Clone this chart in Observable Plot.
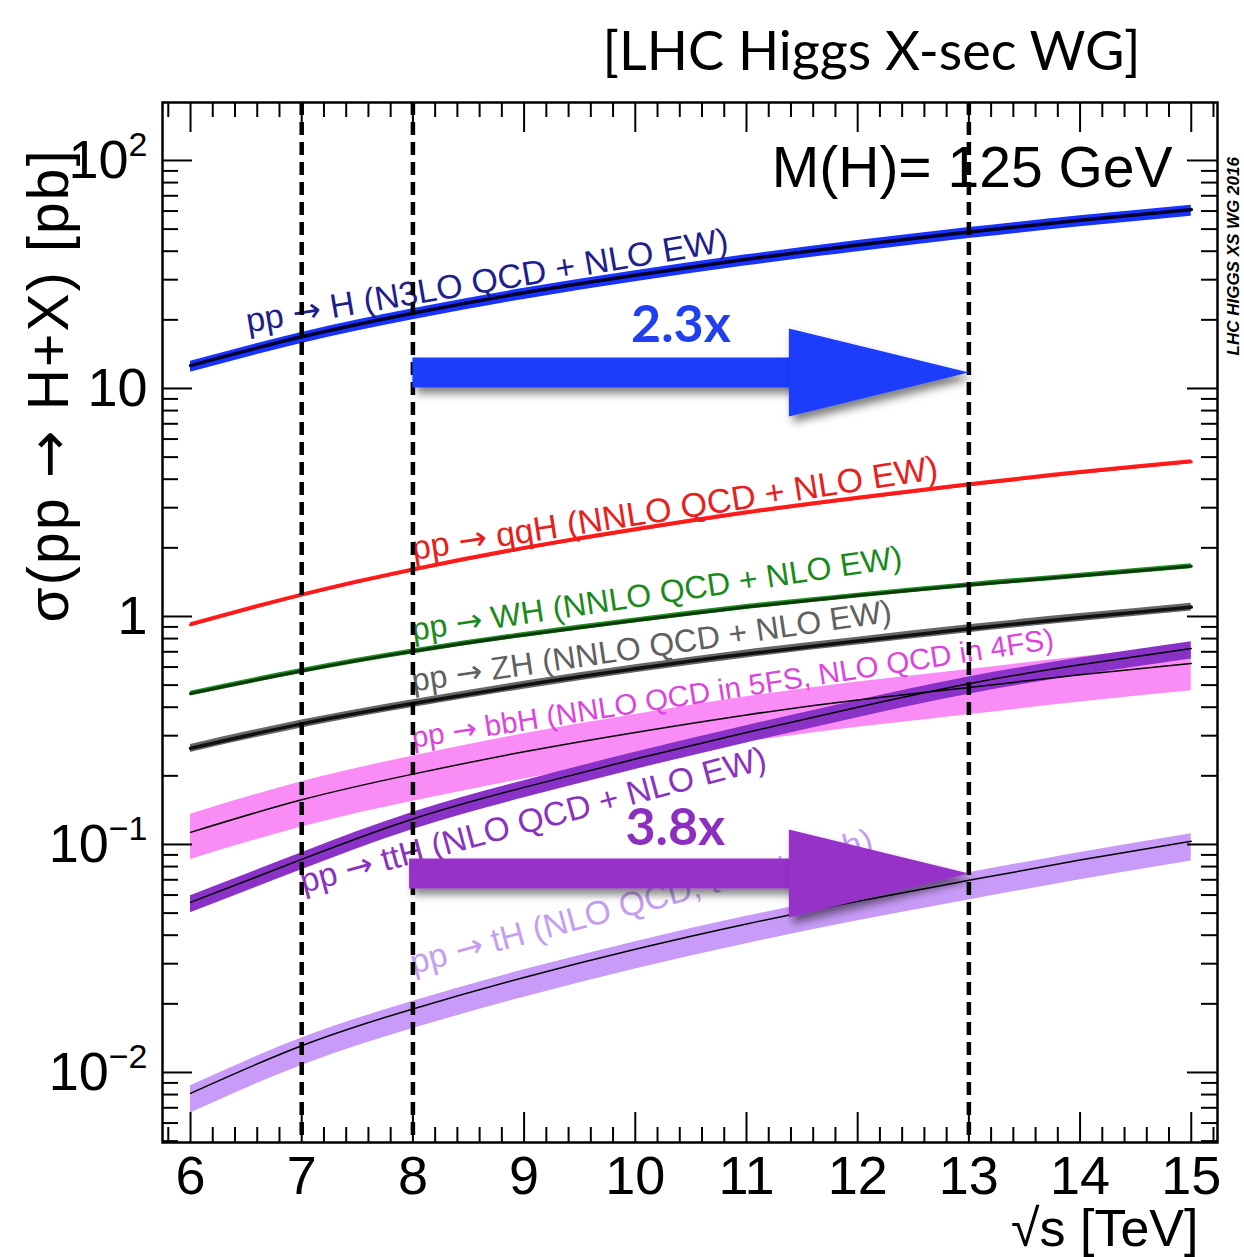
<!DOCTYPE html>
<html><head><meta charset="utf-8">
<script src="https://cdn.jsdelivr.net/npm/d3@7"></script>
<script src="https://cdn.jsdelivr.net/npm/@observablehq/plot@0.6"></script>
<style>
body{margin:0;background:#fff;}
svg{font-family:"Liberation Sans",Arial,Helvetica,sans-serif;}
</style>
</head><body><div id="chart"></div>
<script>
// ---- data (sqrt(s) in TeV, cross sections in pb) ----
const energies = [6, 7, 8, 9, 10, 11, 12, 13, 14, 15];
const ggH = [12.6, 16.85, 21.39, 26.3, 31.4, 36.9, 42.6, 48.6, 54.7, 60.9];
const qqH = [0.92, 1.241, 1.601, 1.99, 2.40, 2.85, 3.30, 3.78, 4.28, 4.77];
const WH  = [0.459, 0.577, 0.703, 0.83, 0.96, 1.10, 1.235, 1.373, 1.51, 1.66];
const ZH  = [0.264, 0.338, 0.415, 0.50, 0.59, 0.685, 0.78, 0.884, 0.99, 1.10];
const bbH = [0.113, 0.157, 0.2035, 0.255, 0.31, 0.37, 0.43, 0.488, 0.555, 0.622];
const ttH = [0.0557, 0.086, 0.1293, 0.178, 0.237, 0.31, 0.40, 0.507, 0.614, 0.724];
const tH  = [0.0081, 0.0131, 0.0190, 0.0261, 0.0347, 0.0448, 0.0564, 0.0696, 0.0854, 0.1033];
// relative uncertainties [up, down]
const ggHUnc = [0.045, 0.065];
const qqHUnc = [0.02, 0.02];
const WHUnc  = [0.025, 0.025];
const ZHUnc  = [0.04, 0.04];
const bbHUnc = [0.20, 0.24];
const ttHUnc = [0.07, 0.10];
const tHUnc  = [0.08, 0.18];

// curve labels
const labelTexts = ["pp → H (N3LO QCD + NLO EW)", "pp → qqH (NNLO QCD + NLO EW)", "pp → WH (NNLO QCD + NLO EW)",
  "pp → ZH (NNLO QCD + NLO EW)", "pp → bbH (NNLO QCD in 5FS, NLO QCD in 4FS)", "pp → ttH (NLO QCD + NLO EW)",
  "pp → tH (NLO QCD, t-ch + s-ch)"];
const labelX = [6.50, 7.99, 7.99, 7.99, 7.99, 6.99, 7.98];
const labelY = [19.6, 1.97, 0.868, 0.519, 0.292, 0.068, 0.030];

// vertical reference energies and ratio arrows
const refEnergies = [7, 8, 13];
const arrowFrom = 8, arrowTo = 13;
const ratioLabels = ["2.3x", "3.8x"];
const arrowLevels = [11.75, 0.0746];
const ratioLabelX = [10.41, 10.36];
const ratioLabelY = [18.9, 0.1175];

// axis ticks
const xTicks = [6, 7, 8, 9, 10, 11, 12, 13, 14, 15];
const yTicks = [0.01, 0.1, 1, 10, 100];
const yTickBase = ["10", "10", "1", "10", "10"];
const yTickExp = ["−2", "−1", "", "", "2"];

// ---- build tables ----
const procs = [
  {v: ggH, u: ggHUnc, band: "#1833ff", line: "#00002a", lw: 3.5},
  {v: qqH, u: qqHUnc, band: "#ff2020", line: "#ff1a1a", lw: 3},
  {v: WH,  u: WHUnc,  band: "#1f8f1f", line: "#0b3a0b", lw: 3},
  {v: ZH,  u: ZHUnc,  band: "#666666", line: "#111111", lw: 3.5},
  {v: bbH, u: bbHUnc, band: "#fa8cf5", line: "#000000", lw: 1.5},
  {v: ttH, u: ttHUnc, band: "#8a32c8", line: "#000000", lw: 1.5},
  {v: tH,  u: tHUnc,  band: "#c79bf7", line: "#000000", lw: 1.5}
];
const rows = p => energies.map((x, i) => ({x, y: p.v[i], y1: p.v[i] * (1 - p.u[1]), y2: p.v[i] * (1 + p.u[0])}));
const labelStyle = [
  {c: "#1e1e8c", s: 34, a: -9.6}, {c: "#e8201c", s: 34, a: -8.8}, {c: "#1a8a1a", s: 32, a: -8.5},
  {c: "#606060", s: 32, a: -8.3}, {c: "#dd44dd", s: 29.5, a: -8.8}, {c: "#8a33c0", s: 33.5, a: -15},
  {c: "#c49ef0", s: 33.5, a: -15}
];

const W = 1244, H = 1257, mL = 162, mR = 27, mT = 102, mB = 115;
const fw = W - mL - mR, fh = H - mT - mB;
const xMinor = d3.range(58, 153, 2).map(d => d / 10).filter(d => d % 1 !== 0);
const yMinor = [];
for (let e = -3; e <= 2; e++) for (let k = 2; k <= 9; k++) { const v = k * 10 ** e; if (v > 0.00494 && v < 179) yMinor.push(v); }

const headSymbol = {draw(ctx) { ctx.moveTo(0, 0); ctx.lineTo(-180, -44); ctx.lineTo(-180, 44); ctx.closePath(); }};

const marks = [];
procs.forEach(p => marks.push(Plot.areaY(rows(p), {x: "x", y1: "y1", y2: "y2", fill: p.band, curve: "natural"})));
procs.forEach(p => marks.push(Plot.line(rows(p), {x: "x", y: "y", stroke: p.line, strokeWidth: p.lw, curve: "natural"})));
labelTexts.forEach((t, i) => marks.push(Plot.text([t], {
  x: () => labelX[i], y: () => labelY[i], text: d => d, fill: labelStyle[i].c, fontSize: labelStyle[i].s,
  rotate: labelStyle[i].a, textAnchor: "start", lineAnchor: "middle"
})));
marks.push(Plot.ruleX(refEnergies, {x: d => d, stroke: "black", strokeWidth: 4.5, strokeDasharray: "13,7"}));
marks.push(
  Plot.tickX(xTicks, {x: d => d, insetTop: fh - 30, stroke: "black", strokeWidth: 2}),
  Plot.tickX(xTicks, {x: d => d, insetBottom: fh - 30, stroke: "black", strokeWidth: 2}),
  Plot.tickX(xMinor, {x: d => d, insetTop: fh - 15, stroke: "black", strokeWidth: 2}),
  Plot.tickX(xMinor, {x: d => d, insetBottom: fh - 15, stroke: "black", strokeWidth: 2}),
  Plot.tickY(yTicks, {y: d => d, insetRight: fw - 30, stroke: "black", strokeWidth: 2}),
  Plot.tickY(yTicks, {y: d => d, insetLeft: fw - 30, stroke: "black", strokeWidth: 2}),
  Plot.tickY(yMinor, {y: d => d, insetRight: fw - 16, stroke: "black", strokeWidth: 2}),
  Plot.tickY(yMinor, {y: d => d, insetLeft: fw - 16, stroke: "black", strokeWidth: 2})
);
marks.push(
  Plot.axisX({ticks: xTicks, tickSize: 0, tickPadding: 13, fontSize: 54, label: null, tickFormat: d => String(d)}),
  Plot.axisY({ticks: yTicks, tickSize: 0, tickPadding: 15, fontSize: 54, label: null,
    tickFormat: d => { const i = yTicks.indexOf(d); return yTickBase[i] + "|" + yTickExp[i]; }})
);
const arrowColors = ["#1c3dfc", "#9630c8"];
const ratioColors = ["#2040f0", "#8c2fc0"];
arrowLevels.forEach((lev, i) => {
  marks.push(Plot.ruleY([lev], {y: d => d, x1: arrowFrom - (i ? 0.03 : 0), x2: 12, stroke: arrowColors[i], strokeWidth: 30}));
  marks.push(Plot.dot([{x: arrowTo, y: lev}], {x: "x", y: "y", symbol: headSymbol, fill: arrowColors[i], stroke: "none"}));
  marks.push(Plot.text([ratioLabels[i]], {x: () => ratioLabelX[i], y: () => ratioLabelY[i], text: d => d, fill: ratioColors[i],
    fontSize: 52, fontWeight: "bold", fontFamily: "Lato, 'Open Sans', sans-serif", textAnchor: "middle", lineAnchor: "middle"}));
});
marks.push(
  Plot.text(["[LHC Higgs X-sec WG]"], {frameAnchor: "top-right", dx: -77, dy: -50, text: d => d, textAnchor: "end", lineAnchor: "middle", fontSize: 54, fontFamily: "Lato, 'Open Sans', sans-serif", fill: "black"}),
  Plot.text(["M(H)= 125 GeV"], {frameAnchor: "top-right", dx: -45, dy: 66, text: d => d, textAnchor: "end", lineAnchor: "middle", fontSize: 57, fill: "black"}),
  Plot.text(["σ(pp → H+X) [pb]"], {frameAnchor: "top-left", dx: -113, dy: 48, text: d => d, rotate: -90, textAnchor: "end", lineAnchor: "middle", fontSize: 57, fill: "black"}),
  Plot.text(["√s [TeV]"], {frameAnchor: "bottom-right", dx: -19, dy: 87, text: d => d, textAnchor: "end", lineAnchor: "middle", fontSize: 52, fill: "black"}),
  Plot.text(["LHC HIGGS XS WG 2016"], {frameAnchor: "top-right", dx: 16, dy: 253, text: d => d, rotate: -90, textAnchor: "start", lineAnchor: "middle", fontSize: 17, fontWeight: "bold", fontStyle: "italic", fill: "black"}),
  Plot.frame({stroke: "black", strokeWidth: 2.5})
);

const chart = Plot.plot({
  width: W, height: H, marginLeft: mL, marginRight: mR, marginTop: mT, marginBottom: mB,
  x: {domain: [5.748, 15.236]},
  y: {type: "log", domain: [0.00493, 179.6]},
  style: {background: "white", color: "black"},
  marks
});
document.getElementById("chart").appendChild(chart);

const svg = d3.select(chart);
// superscript exponents on y tick labels
svg.selectAll('g[aria-label="y-axis tick label"] text').each(function () {
  const t = this.textContent;
  if (!t.includes("|")) return;
  const [b, e] = t.split("|");
  const sel = d3.select(this);
  sel.text(b);
  if (e) sel.append("tspan").attr("font-size", 34).attr("dy", -22).text(e);
});
// stretch the y-axis title to the reference length
svg.selectAll("text").filter(function () { return this.textContent.startsWith("σ("); })
  .attr("textLength", 472).attr("lengthAdjust", "spacing");
// full-size arrow glyph in texts
svg.selectAll("text").each(function () {
  const t = this.textContent;
  if (this.childElementCount || !t.includes("→")) return;
  const [a, b] = t.split("→");
  const sel = d3.select(this);
  sel.text(a);
  sel.append("tspan").attr("font-family", "'DejaVu Sans', sans-serif").text("→");
  sel.append("tspan").text(b);
});
// drop shadow on arrow shafts (rules) and heads (dots with custom symbol); generous region
const defs = svg.insert("defs", ":first-child");
const f = defs.append("filter").attr("id", "arrowShadow").attr("filterUnits", "userSpaceOnUse")
  .attr("x", -2 * W).attr("y", -2 * H).attr("width", 5 * W).attr("height", 5 * H);
f.append("feDropShadow").attr("dx", 4).attr("dy", 6).attr("stdDeviation", 4).attr("flood-color", "#000").attr("flood-opacity", 0.5);
svg.selectAll("line").filter(function () { return +this.getAttribute("stroke-width") === 30 || +(this.parentNode.getAttribute("stroke-width")) === 30; })
  .attr("filter", "url(#arrowShadow)");
svg.selectAll('g[aria-label="dot"] path').attr("filter", "url(#arrowShadow)");
</script>
</body></html>
